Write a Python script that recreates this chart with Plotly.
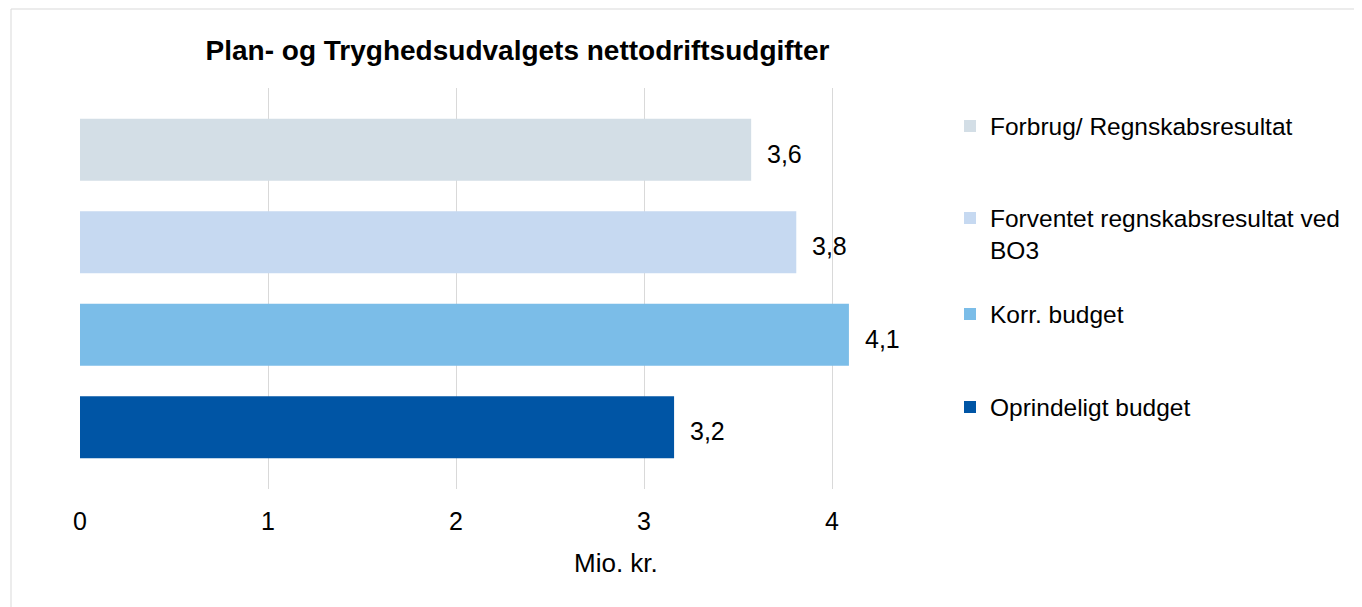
import plotly.graph_objects as go

series_names = [
    "Forbrug/ Regnskabsresultat",
    "Forventet regnskabsresultat ved<br>BO3",
    "Korr. budget",
    "Oprindeligt budget",
]
series_values = [3.57, 3.81, 4.09, 3.16]
series_colors = ["#D3DEE6", "#C6D9F1", "#7BBDE8", "#0055A5"]
x_ticks = [0, 1, 2, 3, 4]
x_tick_labels = ["0", "1", "2", "3", "4"]
title_text = "Plan- og Tryghedsudvalgets nettodriftsudgifter"
x_title = "Mio. kr."

FONT = "Arial, Liberation Sans, sans-serif"

W, H = 1362, 607
OFF = 8  # page body margin

# pixel geometry (screen coords) helpers
PX0, PW = 80 - OFF, 846       # plot left and width in figure coords
PY1, PH = 489 - OFF, 401      # plot bottom and height in figure coords
def px(x):
    return (x - OFF - PX0) / PW
def py(y):
    return (PY1 - (y - OFF)) / PH

cat_order = list(reversed(series_names))  # bottom to top

fig = go.Figure()
legend_ys = [126, 234, 314, 407]
legend_keys = ["legend", "legend2", "legend3", "legend4"]
for name, val, col, lk in zip(series_names, series_values, series_colors, legend_keys):
    fig.add_trace(go.Bar(
        x=[val], y=[name], orientation="h", name=name,
        marker=dict(color=col, line=dict(width=0)),
        width=0.67, legend=lk, hoverinfo="x+name",
    ))
    fig.add_annotation(
        x=val, y=name, xref="x", yref="y", xanchor="left", yanchor="middle",
        xshift=14, yshift=-4, showarrow=False,
        text=f"{val:.1f}".replace(".", ","),
        font=dict(family=FONT, size=25, color="#000000"),
    )

legend_cfg = {}
for lk, ly in zip(legend_keys, legend_ys):
    legend_cfg[lk] = dict(
        x=px(950), y=py(ly), xanchor="left", yanchor="middle",
        xref="paper", yref="paper",
        font=dict(family=FONT, size=24.5, color="#000000"),
        bgcolor="rgba(0,0,0,0)", borderwidth=0, valign="top",
        itemclick=False, itemdoubleclick=False,
    )

fig.add_annotation(
    x=px(616), y=py(563), xref="paper", yref="paper",
    xanchor="center", yanchor="middle", showarrow=False,
    text=x_title, font=dict(family=FONT, size=26, color="#000000"),
)

# outer chart border
fig.add_shape(
    type="rect", xref="paper", yref="paper",
    x0=px(11), x1=px(1420), y0=py(680), y1=py(9),
    line=dict(color="#D9D9D9", width=1), fillcolor="rgba(0,0,0,0)", layer="below",
)

fig.update_layout(
    width=W, height=H,
    margin=dict(l=PX0, r=W - PX0 - PW, t=PY1 - PH, b=H - PY1),
    paper_bgcolor="#FFFFFF", plot_bgcolor="#FFFFFF",
    barmode="overlay",
    showlegend=True,
    title=dict(
        text=f"<b>{title_text}</b>", x=(517.5 - OFF) / W, y=1 - (50 - OFF) / H,
        xref="container", yref="container", xanchor="center", yanchor="middle",
        font=dict(family=FONT, size=28, color="#000000"),
    ),
    xaxis=dict(
        range=[0, 4.5], tickvals=x_ticks, ticktext=x_tick_labels,
        showgrid=True, gridcolor="#D9D9D9", gridwidth=1,
        zeroline=False, showline=False, ticks="",
        tickfont=dict(family=FONT, size=25, color="#000000"),
        ticklabelstandoff=15, fixedrange=True,
    ),
    yaxis=dict(
        categoryorder="array", categoryarray=cat_order,
        range=[-0.667, 3.667], showticklabels=False, showgrid=False,
        zeroline=False, showline=False, ticks="", fixedrange=True,
    ),
    **legend_cfg,
)

fig.write_html("out.html")
